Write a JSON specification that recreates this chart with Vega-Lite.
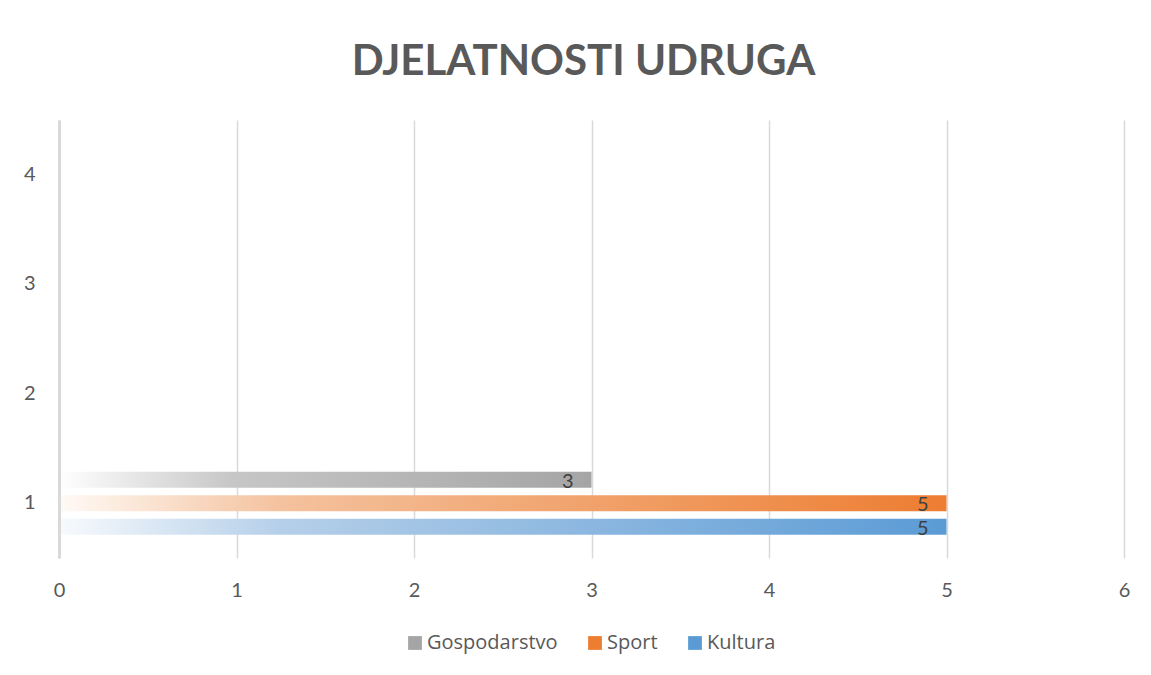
{
  "$schema": "https://vega.github.io/schema/vega-lite/v6.json",
  "autosize": "none",
  "width": 1065,
  "height": 438,
  "padding": {"left": 59, "top": 120, "right": 27, "bottom": 117},
  "background": "#ffffff",
  "title": {
    "text": "DJELATNOSTI UDRUGA",
    "font": "Lato",
    "fontSize": 42,
    "fontWeight": "bold",
    "color": "#595959",
    "baseline": "alphabetic",
    "offset": 3,
    "dx": -8,
    "anchor": "middle"
  },
  "data": {
    "values": [
      {"kategorija": "1", "djelatnost": "Gospodarstvo", "broj": 3},
      {"kategorija": "1", "djelatnost": "Sport", "broj": 5},
      {"kategorija": "1", "djelatnost": "Kultura", "broj": 5}
    ]
  },
  "encoding": {
    "y": {
      "field": "kategorija",
      "type": "nominal",
      "scale": {"domain": ["4", "3", "2", "1"], "paddingInner": 0, "paddingOuter": 0},
      "axis": {
        "title": null,
        "ticks": false,
        "domain": true,
        "domainColor": "#d9d9d9",
        "domainWidth": 3,
        "labelFont": "Lato",
        "labelFontSize": 20,
        "labelColor": "#595959",
        "labelPadding": 24,
        "labelAngle": 0,
        "zindex": 1
      }
    },
    "yOffset": {
      "field": "djelatnost",
      "type": "nominal",
      "scale": {"domain": ["Gospodarstvo", "Sport", "Kultura"], "paddingInner": 0.32, "paddingOuter": 0.99}
    },
    "x": {
      "field": "broj",
      "type": "quantitative",
      "scale": {"domain": [0, 6], "nice": false},
      "axis": {
        "title": null,
        "values": [0, 1, 2, 3, 4, 5, 6],
        "ticks": false,
        "domain": false,
        "grid": true,
        "gridColor": "#d9d9d9",
        "gridWidth": 1.5,
        "labelFont": "Lato",
        "labelFontSize": 20,
        "labelColor": "#595959",
        "labelPadding": 22,
        "labelFlush": false
      }
    }
  },
  "layer": [
    {
      "mark": {"type": "bar"},
      "encoding": {
        "x": {"datum": 0, "type": "quantitative"},
        "color": {
          "field": "djelatnost",
          "type": "nominal",
          "scale": {
            "domain": ["Gospodarstvo", "Sport", "Kultura"],
            "range": ["#a5a5a5", "#ed7d31", "#5b9bd5"]
          },
          "legend": {
            "title": null,
            "orient": "none",
            "legendX": 346,
            "legendY": 513,
            "direction": "horizontal",
            "symbolType": "square",
            "symbolSize": 190,
            "symbolStrokeWidth": 0,
            "labelFont": "Open Sans",
            "labelFontSize": 20,
            "labelColor": "#595959",
            "labelOffset": 2,
            "columnPadding": 27
          }
        }
      }
    },
    {
      "transform": [{"filter": "datum.djelatnost === 'Gospodarstvo'"}],
      "mark": {"type": "bar", "fill": {"gradient": "linear", "x1": 0, "y1": 0, "x2": 1, "y2": 0, "stops": [
        {"offset": 0, "color": "#ffffff"},
        {"offset": 0.33, "color": "#c6c6c6"},
        {"offset": 1, "color": "#a5a5a5"}
      ]}},
      "encoding": {}
    },
    {
      "transform": [{"filter": "datum.djelatnost === 'Sport'"}],
      "mark": {"type": "bar", "fill": {"gradient": "linear", "x1": 0, "y1": 0, "x2": 1, "y2": 0, "stops": [
        {"offset": 0, "color": "#fffaf6"},
        {"offset": 0.25, "color": "#f4c29e"},
        {"offset": 1, "color": "#ed7d31"}
      ]}},
      "encoding": {}
    },
    {
      "transform": [{"filter": "datum.djelatnost === 'Kultura'"}],
      "mark": {"type": "bar", "fill": {"gradient": "linear", "x1": 0, "y1": 0, "x2": 1, "y2": 0, "stops": [
        {"offset": 0, "color": "#f7fafd"},
        {"offset": 0.25, "color": "#b5cfe9"},
        {"offset": 1, "color": "#5b9bd5"}
      ]}},
      "encoding": {}
    },
    {
      "mark": {"type": "text", "align": "right", "baseline": "middle", "dx": -18, "dy": 2, "font": "Lato", "fontSize": 20, "color": "#404040"},
      "encoding": {
        "text": {"field": "broj", "type": "quantitative"}
      }
    }
  ],
  "config": {
    "view": {"stroke": null}
  }
}
